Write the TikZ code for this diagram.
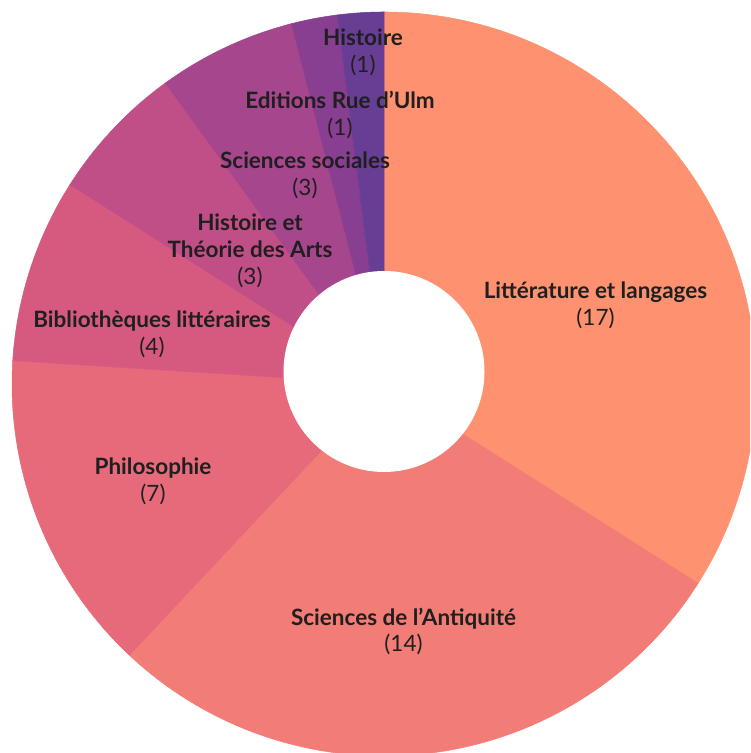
\documentclass[tikz,border=0pt]{standalone}
\usepackage{fontspec}
\setmainfont{Lato}

\definecolor{litt}{HTML}{FE9170}
\definecolor{anti}{HTML}{F27C76}
\definecolor{philo}{HTML}{E76A7A}
\definecolor{biblio}{HTML}{D65A80}
\definecolor{arts}{HTML}{C14F87}
\definecolor{socio}{HTML}{A6468D}
\definecolor{ulm}{HTML}{883E91}
\definecolor{hist}{HTML}{683D94}

\begin{document}
\begin{tikzpicture}[x = 0.02cm, y = 0.02cm,
    lbl/.style = {align=center, text=black!88, inner sep=0pt,
                  font=\fontsize{12.8}{15.3}\selectfont}]

    \useasboundingbox (0,0) rectangle (750,753);

    \def \cx {384};
    \def \cy {369};
    \def \R {372};

    % slices, clockwise from the top
    \begin{scope}
        \clip (0,0) rectangle (750,753);
        \foreach \a/\b/\col in {90/-32.4/litt, -32.4/-133.2/anti, -133.2/-183.6/philo,
                                -183.6/-212.4/biblio, -212.4/-234/arts, -234/-255.6/socio,
                                -255.6/-262.8/ulm, -262.8/-270/hist}
            \filldraw[fill=\col, draw=\col, line width=0.3pt] (\cx, \cy) -- ++(\a:\R) arc (\a:\b:\R) -- cycle;
    \end{scope}

    % hole
    \fill[white] (\cx, 381.5) circle (100.5);

    \node[lbl] (litt)   at (595.5, 447.5) {\textbf{Littérature et langages}\\(17)};
    \node[lbl] (anti)   at (403.5, 121.5) {\textbf{Sciences de l’Antiquité}\\(14)};
    \node[lbl] (philo)  at (153, 272)     {\textbf{Philosophie}\\(7)};
    \node[lbl] (biblio) at (152, 419)     {\textbf{Bibliothèques littéraires}\\(4)};
    \node[lbl] (arts)   at (250, 502)     {\textbf{Histoire et}\\\textbf{Théorie des Arts}\\(3)};
    \node[lbl] (socio)  at (305, 578)     {\textbf{Sciences sociales}\\(3)};
    \node[lbl] (ulm)    at (340, 638)     {\textbf{Editions Rue d’Ulm}\\(1)};
    \node[lbl] (hist)   at (363, 700.5)   {\textbf{Histoire}\\(1)};

\end{tikzpicture}
\end{document}
